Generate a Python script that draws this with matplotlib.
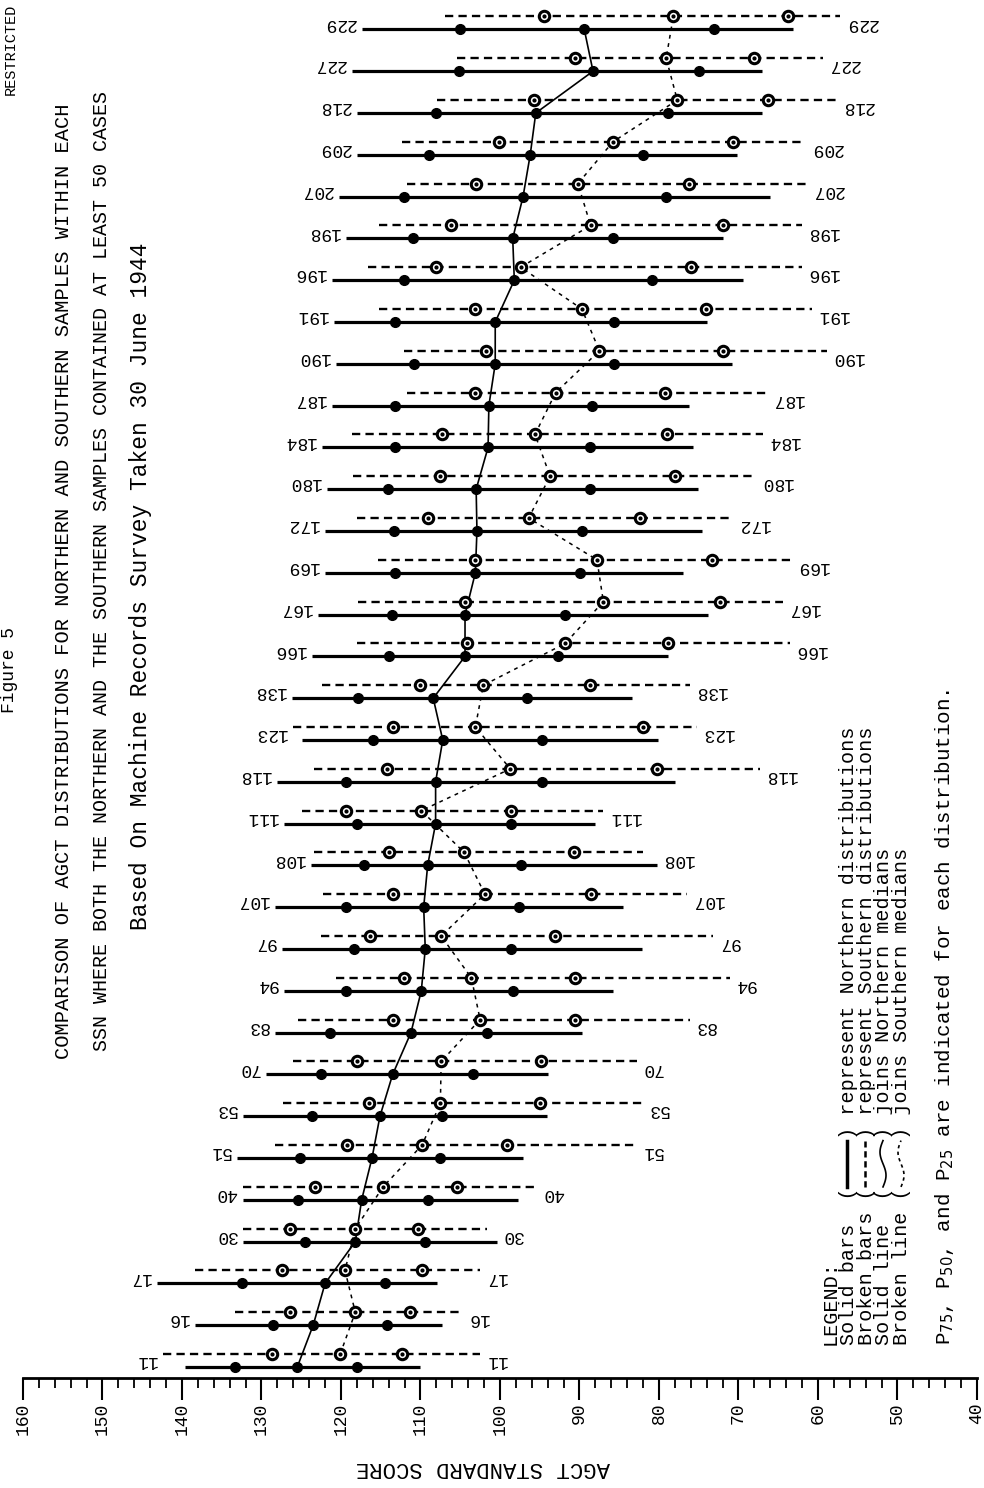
import matplotlib
matplotlib.use('Agg')
import matplotlib.pyplot as plt
from matplotlib.ticker import MultipleLocator
import numpy as np

# SSN codes, bottom to top
ssn = [11, 16, 17, 30, 40, 51, 53, 70, 83, 94, 97, 107, 108, 111, 118, 123,
       138, 166, 167, 169, 172, 180, 184, 187, 190, 191, 196, 198, 207, 209,
       218, 227, 229]

# Northern distributions (solid bars): ends of bar and P75 / P50 / P25
north_top = [139.6, 138.4, 143.1, 132.3, 132.3, 133.1, 132.3, 129.4, 128.3, 127.2,
             127.4, 128.3, 123.8, 127.2, 128.1, 124.9, 126.2, 123.6, 122.9, 122.0,
             122.0, 121.8, 122.4, 121.1, 120.6, 120.9, 121.1, 119.4, 120.3, 118.0,
             118.0, 118.6, 117.4]
north_p75 = [133.3, 128.6, 132.5, 124.5, 125.4, 125.2, 123.6, 122.5, 121.4, 119.4,
             118.4, 119.4, 117.1, 118.0, 119.4, 116.0, 117.9, 114.0, 113.6, 113.2,
             113.3, 114.1, 113.2, 113.2, 110.8, 113.2, 112.1, 110.9, 112.1, 108.9,
             108.1, 105.2, 105.0]
north_p50 = [125.5, 123.5, 122.0, 118.2, 117.4, 116.1, 115.1, 113.5, 111.2, 109.9,
             109.4, 109.6, 109.1, 108.1, 108.1, 107.2, 108.4, 104.4, 104.4, 103.1,
             102.9, 103.0, 101.5, 101.4, 100.6, 100.6, 98.2, 98.4, 97.1, 96.2,
             95.5, 88.3, 89.4]
north_p25 = [118.0, 114.2, 114.5, 109.4, 109.1, 107.5, 107.3, 103.4, 101.6, 98.4,
             98.6, 97.6, 97.4, 98.6, 94.7, 94.7, 96.6, 92.7, 91.8, 89.9,
             89.7, 88.7, 88.7, 88.4, 85.7, 85.7, 80.9, 85.8, 79.1, 82.0,
             78.9, 75.0, 73.1]
north_bottom = [110.1, 107.3, 107.9, 100.4, 97.7, 97.1, 94.1, 94.0, 89.7, 85.8,
                82.1, 84.5, 80.3, 88.1, 78.0, 80.1, 83.4, 78.9, 73.8, 77.0,
                74.6, 75.1, 75.7, 76.2, 70.8, 74.0, 69.4, 72.0, 66.0, 70.2,
                67.0, 67.0, 63.1]

# Southern distributions (broken bars)
south_top = [142.4, 133.3, 138.4, 132.3, 132.3, 128.3, 127.3, 126.0, 125.4, 120.6,
             122.5, 122.3, 123.4, 124.9, 123.4, 126.0, 122.4, 118.0, 117.9, 115.3,
             118.0, 118.5, 118.6, 111.7, 112.1, 115.2, 116.6, 115.2, 111.7, 112.3,
             107.9, 105.4, 106.9]
south_p75 = [128.7, 126.4, 127.4, 126.4, 123.3, 119.2, 116.5, 118.0, 113.5, 112.1,
             116.3, 113.5, 114.0, 119.4, 114.2, 113.5, 110.1, 104.2, 104.4, 103.1,
             109.1, 107.5, 107.3, 103.1, 101.8, 103.1, 108.1, 106.2, 103.0, 100.1,
             95.7, 90.6, 94.5]
south_p50 = [120.1, 118.2, 119.5, 118.2, 114.7, 109.8, 107.5, 107.4, 102.5, 103.6,
             107.4, 101.9, 104.5, 109.9, 98.7, 103.1, 102.1, 91.8, 87.0, 87.8,
             96.4, 93.7, 95.6, 93.0, 87.5, 89.7, 97.4, 88.6, 90.2, 85.8,
             77.7, 79.1, 78.2]
south_p25 = [112.3, 111.3, 109.8, 110.3, 105.4, 99.1, 95.0, 94.8, 90.6, 90.6,
             93.1, 88.6, 90.7, 98.6, 80.3, 82.0, 88.7, 78.9, 72.3, 73.3,
             82.4, 78.0, 79.0, 79.2, 72.0, 74.1, 76.0, 72.0, 76.2, 70.7,
             66.3, 68.1, 63.8]
south_bottom = [102.5, 104.7, 102.5, 101.6, 95.3, 82.8, 82.0, 82.8, 76.1, 71.1,
                73.2, 76.5, 82.0, 87.0, 67.3, 75.2, 76.1, 63.5, 64.4, 63.3,
                70.7, 67.9, 66.9, 66.4, 58.9, 60.8, 62.0, 62.0, 61.4, 61.6,
                57.6, 59.4, 57.2]

tick_values = [160, 150, 140, 130, 120, 110, 100, 90, 80, 70, 60, 50, 40]

MONO = ['Liberation Mono', 'DejaVu Sans Mono']
ROW_PX = 41.8          # pixel distance between two SSN rows
BROKEN = 0.31          # broken bar sits a little above the solid one

fig = plt.figure(figsize=(9.84, 14.88), dpi=100)

# overlay in pixel units for the page texts
ov = fig.add_axes([0, 0, 1, 1])
ov.set_xlim(0, 984)
ov.set_ylim(1488, 0)
ov.axis('off')

ax = fig.add_axes([23 / 984, 110 / 1488, 954 / 984, 1378 / 1488])
ax.patch.set_alpha(0)
rows = np.arange(len(ssn))
ybot = -11 / ROW_PX
ax.set_xlim(160, 40)
ax.set_ylim(ybot, ybot + 1378 / ROW_PX)

for i in rows:
    ax.plot([north_top[i], north_bottom[i]], [i, i], color='black', lw=2.3,
            solid_capstyle='butt', zorder=2)
    ax.plot([south_top[i], south_bottom[i]], [i + BROKEN, i + BROKEN], color='black',
            lw=1.7, ls=(0, (3.5, 2.2)), zorder=2)

# lines joining the medians
ax.plot(north_p50, rows, color='black', lw=1.2, zorder=3)
ax.plot(south_p50, rows + BROKEN, color='black', lw=1.1, ls=(0, (2.5, 3)), zorder=3)

for vals in (north_p75, north_p50, north_p25):
    ax.plot(vals, rows, 'o', color='black', ms=7, zorder=4)
for vals in (south_p75, south_p50, south_p25):
    ax.plot(vals, rows + BROKEN, 'o', mfc='white', mec='black', mew=2.2, ms=7.5, zorder=4)
    ax.plot(vals, rows + BROKEN, 'o', color='black', ms=2, zorder=5)

# SSN numbers at both ends, upside down as on the page
for i, s in enumerate(ssn):
    left = max(north_top[i], south_top[i]) + 0.8
    right = min(north_bottom[i], south_bottom[i]) - 0.6
    ax.text(left, i + 0.15, str(s), rotation=180, ha='right', va='center',
            fontsize=13, family=MONO, clip_on=False)
    ax.text(right, i + 0.15, str(s), rotation=180, ha='left', va='center',
            fontsize=13, family=MONO, clip_on=False)

for side in ('top', 'left', 'right'):
    ax.spines[side].set_visible(False)
ax.spines['bottom'].set_linewidth(2)
ax.set_yticks([])
ax.set_xticks(tick_values)
ax.xaxis.set_minor_locator(MultipleLocator(2))
ax.tick_params(axis='x', which='major', length=16, width=1.5, direction='out',
               labelrotation=90, labelsize=13, pad=2)
ax.tick_params(axis='x', which='minor', length=7, width=1.3, direction='out')
for lbl in ax.get_xticklabels():
    lbl.set_fontfamily(MONO)

# page texts
ov.text(483, 1467, 'AGCT STANDARD SCORE', rotation=180, ha='center', va='center',
        fontsize=16, family=MONO)
ov.text(11, 95, 'RESTRICTED', rotation=90, ha='center', va='bottom',
        fontsize=11, family=MONO)
ov.text(10, 670, 'Figure 5', rotation=90, ha='center', va='center',
        fontsize=13, family=MONO)
ov.text(64, 581, 'COMPARISON OF AGCT DISTRIBUTIONS FOR NORTHERN AND SOUTHERN SAMPLES WITHIN EACH',
        rotation=90, ha='center', va='center', fontsize=14.7, family=MONO)
ov.text(102, 571, 'SSN WHERE BOTH THE NORTHERN AND THE SOUTHERN SAMPLES CONTAINED AT LEAST 50 CASES',
        rotation=90, ha='center', va='center', fontsize=14.4, family=MONO)
ov.text(141, 586, 'Based On Machine Records Survey Taken 30 June 1944',
        rotation=90, ha='center', va='center', fontsize=16.5, family=MONO)

# legend block, one multi-line text (lines run left to right once rotated)
leg_fs = 14.5
adv = 0.6 * leg_fs * 100 / 72
leg_bottom = 1345
legend_text = '\n'.join(['LEGEND:',
                         'Solid bars  (    ) represent Northern distributions',
                         'Broken bars (    ) represent Southern distributions',
                         'Solid line  (    ) joins Northern medians',
                         'Broken line (    ) joins Southern medians'])
ov.text(866, leg_bottom, legend_text, rotation=90, ha='center', va='bottom',
        multialignment='left', linespacing=0.92, fontsize=leg_fs, family=MONO)
leg_x = [847, 865, 883, 901]
y0 = leg_bottom - 13 * adv - 1
y1 = leg_bottom - 17 * adv + 1
ov.plot([leg_x[0], leg_x[0]], [y0, y1], color='black', lw=2.5)
ov.plot([leg_x[1], leg_x[1]], [y0, y1], color='black', lw=1.8, ls=(0, (2.5, 1.5)))
wy = np.linspace(y0, y1, 40)
wx = 3 * np.sin(np.linspace(0, 2 * np.pi, 40))
ov.plot(leg_x[2] + wx, wy, color='black', lw=1.2)
ov.plot(leg_x[3] + wx, wy, color='black', lw=1.2, ls=(0, (2, 2)))
ov.text(945, leg_bottom, r'P$_{75}$, P$_{50}$, and P$_{25}$ are indicated for each distribution.',
        rotation=90, ha='center', va='bottom', fontsize=15, family=MONO)

fig.savefig('out.png', dpi=100, facecolor='white')
